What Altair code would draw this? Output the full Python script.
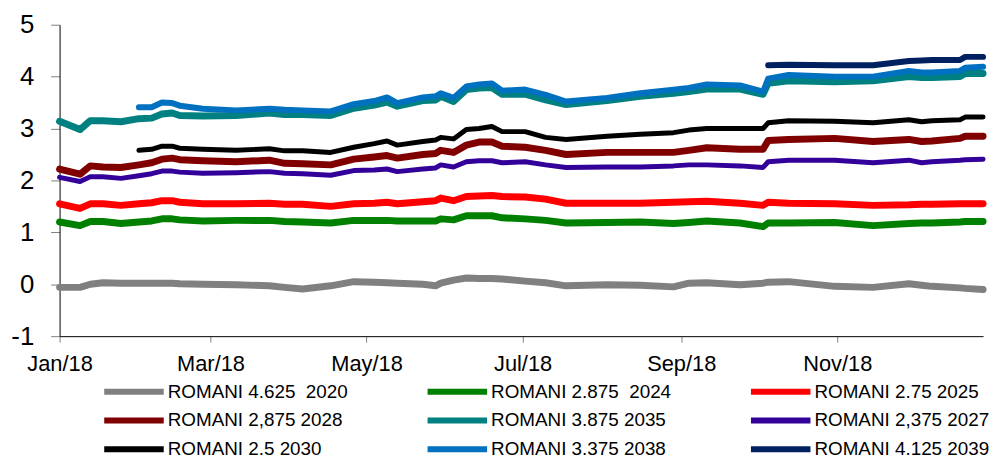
import altair as alt
import pandas as pd

# Sample dates (2018)
dates = [
    "2018-01-01", "2018-01-09", "2018-01-13", "2018-01-18", "2018-01-25",
    "2018-02-01", "2018-02-06", "2018-02-10", "2018-02-14", "2018-02-17",
    "2018-02-26", "2018-03-11", "2018-03-24", "2018-03-30", "2018-04-06",
    "2018-04-17", "2018-04-26", "2018-05-04", "2018-05-09", "2018-05-13",
    "2018-05-23", "2018-05-28", "2018-05-30", "2018-06-04", "2018-06-09",
    "2018-06-14", "2018-06-19", "2018-06-23", "2018-07-02", "2018-07-10",
    "2018-07-18", "2018-08-03", "2018-08-16", "2018-08-29", "2018-09-04",
    "2018-09-11", "2018-09-24", "2018-10-03", "2018-10-05", "2018-10-13",
    "2018-10-31", "2018-11-15", "2018-11-29", "2018-12-04", "2018-12-08",
    "2018-12-19", "2018-12-21", "2018-12-28",
]

names = [
    "ROMANI 4.625\u00a0 2020", "ROMANI 2.875\u00a0 2024", "ROMANI 2.75 2025",
    "ROMANI 2,875 2028", "ROMANI 3.875 2035", "ROMANI 2,375 2027",
    "ROMANI 2.5 2030", "ROMANI 3.375 2038", "ROMANI 4.125 2039",
]
colors = ["#808080", "#008000", "#FF0000", "#800000", "#008080",
          "#330099", "#000000", "#0070C0", "#002060"]
widths = [7, 7, 7, 7, 7, 5, 5, 6, 6]

N = None
r4625_2020 = [-0.06, -0.06, 0.00, 0.03, 0.02, 0.02, 0.02, 0.02, 0.02, 0.01,
              0.00, -0.01, -0.03, -0.06, -0.09, -0.03, 0.05, 0.04, 0.03, 0.02,
              0.00, -0.03, 0.02, 0.08, 0.12, 0.11, 0.11, 0.10, 0.06, 0.03,
              -0.03, -0.01, -0.02, -0.05, 0.02, 0.03, -0.01, 0.02, 0.04, 0.05,
              -0.04, -0.06, 0.01, -0.02, -0.04, -0.07, -0.08, -0.10]
r2875_2024 = [1.20, 1.13, 1.21, 1.21, 1.17, 1.20, 1.22, 1.26, 1.26, 1.24,
              1.22, 1.23, 1.23, 1.21, 1.20, 1.18, 1.23, 1.23, 1.23, 1.22,
              1.22, 1.22, 1.26, 1.24, 1.32, 1.32, 1.32, 1.28, 1.26, 1.23,
              1.18, 1.19, 1.20, 1.17, 1.19, 1.22, 1.18, 1.11, 1.18, 1.18,
              1.19, 1.13, 1.17, 1.18, 1.18, 1.20, 1.21, 1.21]
r275_2025 = [1.55, 1.46, 1.55, 1.55, 1.52, 1.55, 1.57, 1.61, 1.61, 1.58,
             1.55, 1.55, 1.56, 1.54, 1.54, 1.50, 1.55, 1.56, 1.58, 1.55,
             1.59, 1.61, 1.66, 1.61, 1.69, 1.70, 1.71, 1.69, 1.68, 1.64,
             1.56, 1.56, 1.56, 1.58, 1.59, 1.60, 1.56, 1.52, 1.58, 1.56,
             1.55, 1.52, 1.53, 1.54, 1.54, 1.55, 1.55, 1.55]
r2875_2028 = [2.22, 2.12, 2.28, 2.26, 2.25, 2.30, 2.34, 2.41, 2.43, 2.40,
              2.38, 2.36, 2.39, 2.33, 2.32, 2.30, 2.41, 2.45, 2.48, 2.43,
              2.50, 2.52, 2.58, 2.54, 2.68, 2.74, 2.74, 2.66, 2.64, 2.58,
              2.50, 2.54, 2.54, 2.54, 2.58, 2.63, 2.60, 2.60, 2.77, 2.79,
              2.81, 2.75, 2.79, 2.75, 2.76, 2.81, 2.85, 2.85]
r3875_2035 = [3.14, 2.98, 3.15, 3.15, 3.13, 3.19, 3.20, 3.28, 3.30, 3.25,
              3.24, 3.25, 3.30, 3.27, 3.27, 3.25, 3.39, 3.45, 3.51, 3.43,
              3.54, 3.55, 3.62, 3.52, 3.75, 3.78, 3.79, 3.66, 3.66, 3.55,
              3.46, 3.54, 3.62, 3.68, 3.71, 3.76, 3.76, 3.66, 3.87, 3.92,
              3.90, 3.92, 4.00, 3.98, 3.98, 4.00, 4.06, 4.06]
r2375_2027 = [2.06, 1.98, 2.07, 2.07, 2.04, 2.09, 2.13, 2.18, 2.18, 2.16,
              2.14, 2.15, 2.17, 2.14, 2.13, 2.10, 2.19, 2.20, 2.22, 2.17,
              2.22, 2.24, 2.30, 2.26, 2.36, 2.38, 2.38, 2.34, 2.36, 2.30,
              2.25, 2.26, 2.26, 2.28, 2.30, 2.30, 2.28, 2.25, 2.36, 2.39,
              2.39, 2.34, 2.39, 2.34, 2.36, 2.39, 2.40, 2.41]
r25_2030 = [N, N, N, N, N, 2.58, 2.60, 2.66, 2.66, 2.62,
            2.60, 2.58, 2.61, 2.57, 2.57, 2.54, 2.64, 2.71, 2.76, 2.68,
            2.75, 2.78, 2.83, 2.80, 2.98, 3.00, 3.04, 2.94, 2.94, 2.83,
            2.79, 2.85, 2.89, 2.92, 2.97, 3.00, 3.00, 3.00, 3.11, 3.15,
            3.14, 3.11, 3.17, 3.13, 3.15, 3.17, 3.22, 3.22]
r3375_2038 = [N, N, N, N, N, 3.41, 3.41, 3.50, 3.49, 3.44,
              3.38, 3.35, 3.38, 3.36, 3.35, 3.33, 3.47, 3.53, 3.60, 3.49,
              3.60, 3.62, 3.68, 3.59, 3.81, 3.85, 3.87, 3.73, 3.75, 3.65,
              3.52, 3.59, 3.68, 3.75, 3.78, 3.85, 3.83, 3.71, 3.96, 4.03,
              4.00, 4.00, 4.11, 4.08, 4.08, 4.11, 4.17, 4.19]
r4125_2039 = [N] * 38 + [4.22, 4.23, 4.22, 4.22, 4.30, 4.31, 4.32, 4.32, 4.38, 4.38]

series_values = [r4625_2020, r2875_2024, r275_2025, r2875_2028, r3875_2035,
                 r2375_2027, r25_2030, r3375_2038, r4125_2039]

rows = []
for idx, (name, vals) in enumerate(zip(names, series_values)):
    for d, v in zip(dates, vals):
        if v is not None:
            rows.append({"date": d + "T00:00:00", "series": name, "value": v,
                         "k": idx, "sw": widths[idx]})
df = pd.DataFrame(rows)

font = "Liberation Sans"

chart = alt.Chart(df).mark_line(strokeCap="round", strokeJoin="round").encode(
    x=alt.X(
        "date:T", title=None,
        scale=alt.Scale(domain=[alt.DateTime(year=2018, month=1, date=1),
                                alt.DateTime(year=2018, month=12, date=28)]),
        axis=alt.Axis(
            values=[alt.DateTime(year=2018, month=m, date=1) for m in (1, 3, 5, 7, 9, 11)],
            format="%b/%y", labelFontSize=22, labelFont=font, labelColor="black",
            tickSize=6, labelPadding=12, domainColor="black", tickColor="#808080",
            grid=False, labelFlush=False, labelOverlap=False,
        ),
    ),
    y=alt.Y(
        "value:Q", title=None,
        scale=alt.Scale(domain=[-1, 5], nice=False, zero=False),
        axis=alt.Axis(
            values=[-1, 0, 1, 2, 3, 4, 5], labelExpr="toString(datum.value)",
            labelFontSize=26, labelFont=font,
            labelColor="black", tickSize=9, labelPadding=17, domainColor="black",
            tickColor="#808080", grid=False,
        ),
    ),
    color=alt.Color(
        "series:N",
        scale=alt.Scale(domain=names, range=colors),
        legend=alt.Legend(
            orient="none", legendX=42, legendY=360, columns=3, title=None,
            direction="horizontal",
            symbolType="stroke", symbolSize=3600, symbolStrokeWidth=6,
            labelFontSize=19, labelFont=font, labelColor="black", labelLimit=400,
            columnPadding=77, rowPadding=9, gridAlign="all", labelOffset=1,
            clipHeight=20, padding=0,
        ),
    ),
    size=alt.Size("sw:Q", scale=None, legend=None),
    order=alt.Order("k:Q"),
).properties(
    width=931, height=314,
    padding={"left": 52, "top": 15, "right": 7, "bottom": 122},
    autosize=alt.AutoSizeParams(type="none"),
).configure_view(stroke=None)

chart.save("out.html", embed_options={"renderer": "svg", "actions": False})
